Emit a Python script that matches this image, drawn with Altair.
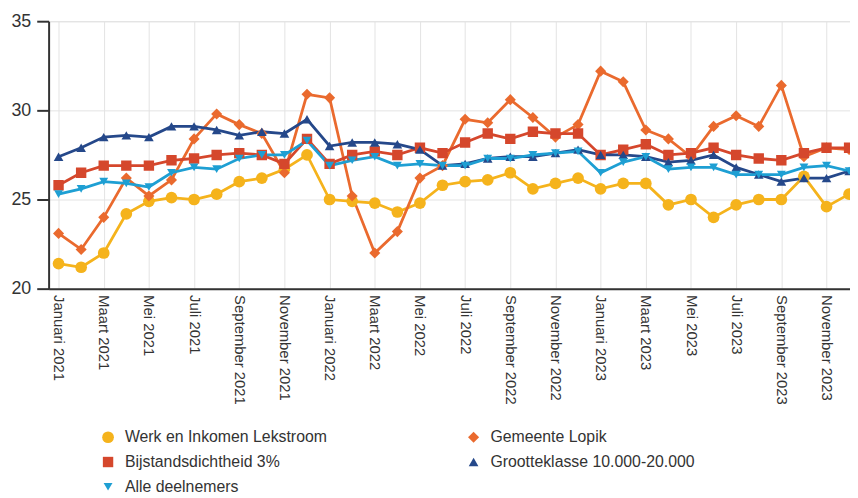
import altair as alt
import pandas as pd

months = ["Januari", "Februari", "Maart", "April", "Mei", "Juni", "Juli",
          "Augustus", "September", "Oktober", "November", "December"]
years = [2021, 2022, 2023]

series = ["Werk en Inkomen Lekstroom", "Gemeente Lopik", "Bijstandsdichtheid 3%",
          "Grootteklasse 10.000-20.000", "Alle deelnemers"]
colors = ["#F5B31C", "#EA6A2E", "#D5472C", "#25488A", "#1E9FD3"]
shapes = ["circle", "diamond", "square", "triangle-up", "triangle-down"]
sizes = [140, 80, 140, 170, 170]

werk = [21.4, 21.2, 22.0, 24.2, 24.9, 25.1, 25.0, 25.3, 26.0, 26.2, 26.7, 27.5,
        25.0, 24.9, 24.8, 24.3, 24.8, 25.8, 26.0, 26.1, 26.5, 25.6, 25.9, 26.2,
        25.6, 25.9, 25.9, 24.7, 25.0, 24.0, 24.7, 25.0, 25.0, 26.3, 24.6, 25.3]
lopik = [23.1, 22.2, 24.0, 26.2, 25.2, 26.1, 28.4, 29.8, 29.2, 28.7, 26.5, 30.9,
         30.7, 25.2, 22.0, 23.2, 26.2, 26.9, 29.5, 29.3, 30.6, 29.6, 28.5, 29.2,
         32.2, 31.6, 28.9, 28.4, 27.4, 29.1, 29.7, 29.1, 31.4, 27.4, 27.9, 27.8]
bijstand = [25.8, 26.5, 26.9, 26.9, 26.9, 27.2, 27.3, 27.5, 27.6, 27.5, 27.0, 28.4,
            27.0, 27.5, 27.7, 27.5, 27.9, 27.6, 28.2, 28.7, 28.4, 28.8, 28.7, 28.7,
            27.5, 27.8, 28.1, 27.5, 27.6, 27.9, 27.5, 27.3, 27.2, 27.6, 27.9, 27.9]
groot = [27.4, 27.9, 28.5, 28.6, 28.5, 29.1, 29.1, 28.9, 28.6, 28.8, 28.7, 29.5,
         28.0, 28.2, 28.2, 28.1, 27.8, 26.9, 27.0, 27.3, 27.4, 27.4, 27.6, 27.8,
         27.5, 27.5, 27.4, 27.1, 27.2, 27.5, 26.8, 26.4, 26.0, 26.2, 26.2, 26.6]
alle = [25.3, 25.6, 26.0, 25.9, 25.7, 26.5, 26.8, 26.7, 27.3, 27.5, 27.5, 28.3,
        26.9, 27.2, 27.4, 26.9, 27.0, 26.9, 26.9, 27.3, 27.3, 27.5, 27.6, 27.7,
        26.5, 27.1, 27.4, 26.7, 26.8, 26.8, 26.4, 26.4, 26.4, 26.8, 26.9, 26.6]

values = [werk, lopik, bijstand, groot, alle]
rows = []
for k, (name, vals) in enumerate(zip(series, values)):
    for i, v in enumerate(vals):
        rows.append({"serie": name, "idx": i, "waarde": v, "volgorde": k})
df = pd.DataFrame(rows)

labels = [f"{months[i % 12]} {years[i // 12]}" for i in range(36)]
label_expr = "[" + ",".join(f"'{l}'" for l in labels) + "][datum.value]"
tick_vals = list(range(0, 35, 2))

x = alt.X("idx:Q",
          scale=alt.Scale(domain=[-0.44, 35.04], nice=False, zero=False),
          axis=alt.Axis(values=tick_vals, labelExpr=label_expr, labelAngle=90,
                        labelAlign="left", labelBaseline="middle", title=None,
                        ticks=False, domainColor="#333333", domainWidth=2,
                        labelFontSize=15, labelPadding=6, labelOverlap=False,
                        labelColor="#333333", gridColor="#e3e3e3"))
y = alt.Y("waarde:Q",
          scale=alt.Scale(domain=[20, 35], nice=False, zero=False),
          axis=alt.Axis(values=[20, 25, 30, 35], title=None, tickSize=12,
                        tickColor="#333333", tickWidth=2, domainColor="#333333",
                        domainWidth=2, labelFontSize=18, labelPadding=6,
                        labelColor="#333333", gridColor="#e3e3e3"))

leg = alt.Legend(title=None, orient="none", legendX=52, legendY=412, columns=2,
                 direction="horizontal", labelLimit=0,
                 labelFontSize=16, labelColor="#333333", symbolSize=110,
                 rowPadding=9, columnPadding=139, labelOffset=9,
                 symbolStrokeWidth=0)
color = alt.Color("serie:N", scale=alt.Scale(domain=series, range=colors), legend=leg)
shape = alt.Shape("serie:N", scale=alt.Scale(domain=series, range=shapes), legend=leg)
size = alt.Size("serie:N", scale=alt.Scale(domain=series, range=sizes), legend=None)

lines = alt.Chart(df).mark_line(strokeWidth=2.8, clip=True).encode(
    x=x, y=y, color=color, order="idx:Q")
points = alt.Chart(df).mark_point(filled=True, opacity=1, clip=True).encode(
    x=x, y=y, color=color, shape=shape, size=size)

chart = alt.layer(lines, points).properties(
    width=809, height=270,
    autosize=alt.AutoSizeParams(type="none"),
    padding={"left": 41, "top": 11, "right": 0, "bottom": 209},
).configure_view(stroke=None).configure(font="Liberation Sans")

chart.save("out.html", embed_options={"renderer": "svg", "actions": False})
